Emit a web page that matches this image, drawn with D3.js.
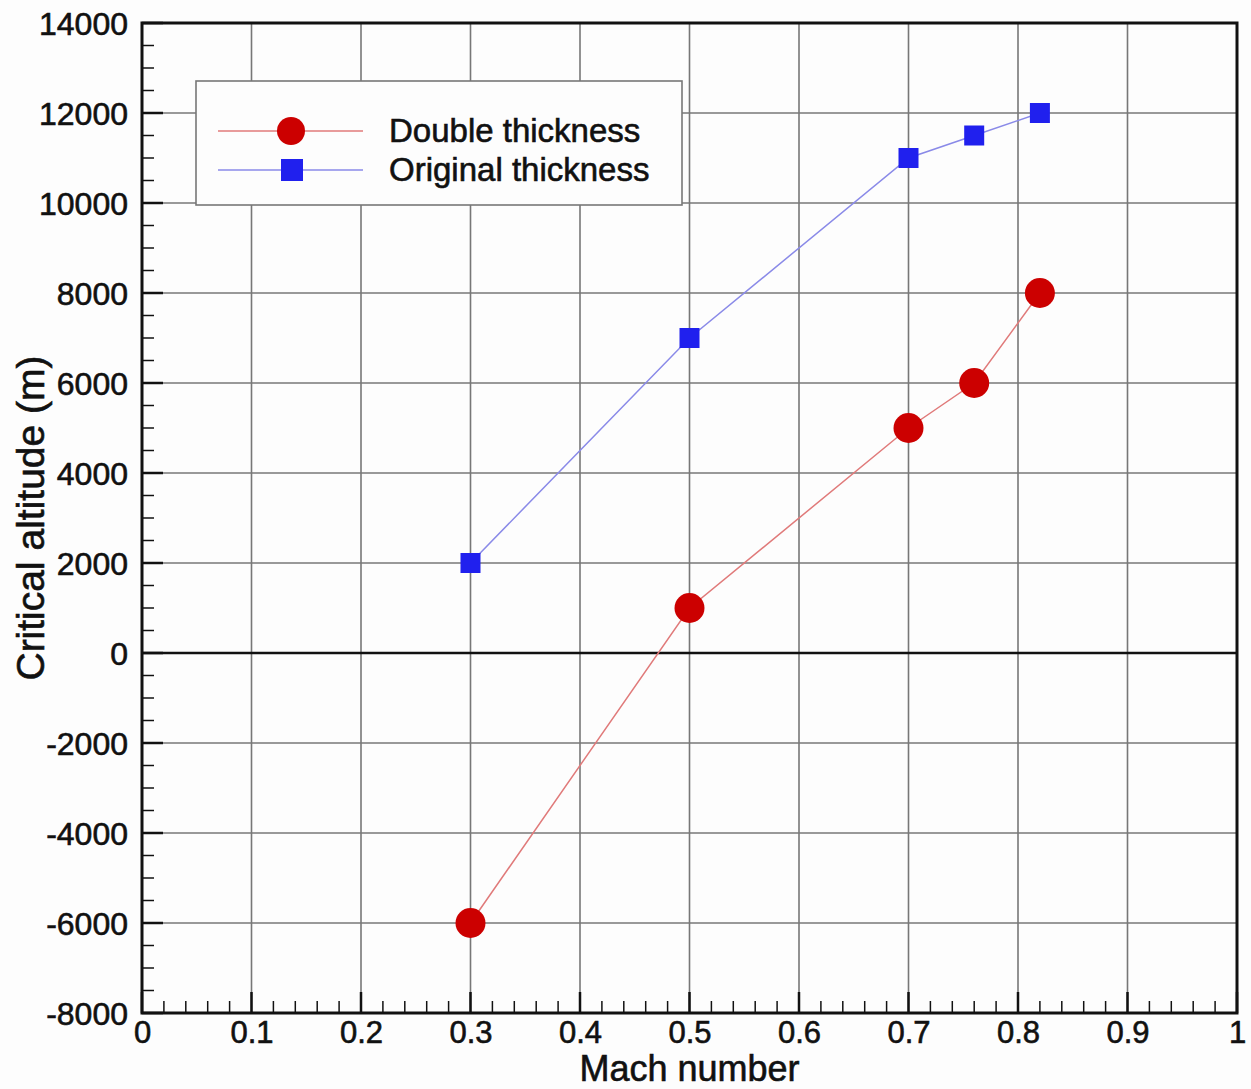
<!DOCTYPE html>
<html>
<head>
<meta charset="utf-8">
<script src="https://cdn.jsdelivr.net/npm/d3@7"></script>
<style>
  body { margin: 0; background: #fdfdfd; }
  text { font-family: "Liberation Sans", Arial, sans-serif; fill: #111; stroke: #111; stroke-width: 0.6px; }
</style>
</head>
<body>
<div id="chart"></div>
<script>
// data
var mach = [0.3, 0.5, 0.7, 0.76, 0.82];
var doubleThickness = [-6000, 1000, 5000, 6000, 8000];
var originalThickness = [2000, 7000, 11000, 11500, 12000];
var xTicks = [0, 0.1, 0.2, 0.3, 0.4, 0.5, 0.6, 0.7, 0.8, 0.9, 1];
var yTicks = [-8000, -6000, -4000, -2000, 0, 2000, 4000, 6000, 8000, 10000, 12000, 14000];
var seriesNames = ["Double thickness", "Original thickness"];

var svgWidth = 1251;
var svgHeight = 1089;
var margin = { top: 23, right: 14, bottom: 76, left: 142 };
var width = svgWidth - margin.left - margin.right;
var height = svgHeight - margin.top - margin.bottom;

var svg = d3.select("#chart").append("svg")
  .attr("width", svgWidth)
  .attr("height", svgHeight);

var g = svg.append("g")
  .attr("transform", `translate(${margin.left}, ${margin.top})`);

var x = d3.scaleLinear().domain([0, 1]).range([0, width]);
var y = d3.scaleLinear().domain([-8000, 14000]).range([height, 0]);

// grid
g.selectAll(".vgrid").data(xTicks.slice(1, -1)).enter().append("line")
  .attr("x1", d => x(d)).attr("x2", d => x(d))
  .attr("y1", 0).attr("y2", height)
  .attr("stroke", "#777").attr("stroke-width", 1.6);
g.selectAll(".hgrid").data(yTicks.slice(1, -1)).enter().append("line")
  .attr("x1", 0).attr("x2", width)
  .attr("y1", d => y(d)).attr("y2", d => y(d))
  .attr("stroke", d => d === 0 ? "#111" : "#777")
  .attr("stroke-width", d => d === 0 ? 2.5 : 1.6);

// minor + major ticks (inside)
var xMinor = d3.range(0, 1.0001, 0.02);
var yMinor = d3.range(-8000, 14001, 500);
g.selectAll(".xminor").data(xMinor).enter().append("line")
  .attr("x1", d => x(d)).attr("x2", d => x(d))
  .attr("y1", height).attr("y2", (d, i) => height - (i % 5 === 0 ? 21 : 12))
  .attr("stroke", "#111").attr("stroke-width", (d, i) => i % 5 === 0 ? 2.5 : 1.5);
g.selectAll(".yminor").data(yMinor).enter().append("line")
  .attr("y1", d => y(d)).attr("y2", d => y(d))
  .attr("x1", 0).attr("x2", (d, i) => i % 4 === 0 ? 21 : 12)
  .attr("stroke", "#111").attr("stroke-width", (d, i) => i % 4 === 0 ? 2.5 : 1.5);

// frame
g.append("rect")
  .attr("width", width).attr("height", height)
  .attr("fill", "none").attr("stroke", "#111").attr("stroke-width", 3);

// tick labels
var bottomAxis = d3.axisBottom(x).tickValues(xTicks).tickSize(0).tickPadding(8)
  .tickFormat(d => d === 0 || d === 1 ? String(d) : d3.format(".1f")(d));
var leftAxis = d3.axisLeft(y).tickValues(yTicks).tickSize(0).tickPadding(14)
  .tickFormat(d => String(d));

g.append("g").attr("transform", `translate(0, ${height})`).call(bottomAxis)
  .call(a => a.select(".domain").remove())
  .selectAll("text").attr("font-size", 31).attr("fill", "#111")
  .attr("font-family", "Liberation Sans, Arial, sans-serif");
g.append("g").call(leftAxis)
  .call(a => a.select(".domain").remove())
  .selectAll("text").attr("font-size", 32).attr("fill", "#111")
  .attr("dy", "0.35em")
  .attr("font-family", "Liberation Sans, Arial, sans-serif");

// axis titles
svg.append("text")
  .attr("x", margin.left + x(0.5)).attr("y", 1081)
  .attr("text-anchor", "middle").attr("font-size", 36)
  .text("Mach number");
svg.append("text")
  .attr("transform", `translate(44, ${margin.top + y(3000)}) rotate(-90)`)
  .attr("text-anchor", "middle").attr("font-size", 39)
  .text("Critical altitude (m)");

// series
var line = d3.line().x(d => x(d[0])).y(d => y(d[1]));
var redPts = mach.map((m, i) => [m, doubleThickness[i]]);
var bluePts = mach.map((m, i) => [m, originalThickness[i]]);

g.append("path").datum(redPts).attr("d", line)
  .attr("fill", "none").attr("stroke", "#e07a7a").attr("stroke-width", 1.5);
g.append("path").datum(bluePts).attr("d", line)
  .attr("fill", "none").attr("stroke", "#8a8ae8").attr("stroke-width", 1.5);

g.selectAll(".red").data(redPts).enter().append("circle")
  .attr("cx", d => x(d[0])).attr("cy", d => y(d[1]))
  .attr("r", 15).attr("fill", "#cc0000");
g.selectAll(".blue").data(bluePts).enter().append("rect")
  .attr("x", d => x(d[0]) - 10).attr("y", d => y(d[1]) - 10)
  .attr("width", 20).attr("height", 20).attr("fill", "#2020ee");

// legend
var lg = svg.append("g").attr("transform", "translate(196, 81)");
lg.append("rect").attr("width", 486).attr("height", 124)
  .attr("fill", "#fdfdfd").attr("stroke", "#777").attr("stroke-width", 1.6);
var legendColors = [["#e07a7a", "#cc0000"], ["#8a8ae8", "#2020ee"]];
seriesNames.forEach(function(name, i) {
  var ly = i === 0 ? 50 : 89;
  lg.append("line").attr("x1", 22).attr("x2", 167).attr("y1", ly).attr("y2", ly)
    .attr("stroke", legendColors[i][0]).attr("stroke-width", 1.5);
  if (i === 0) {
    lg.append("circle").attr("cx", 95).attr("cy", ly).attr("r", 14).attr("fill", legendColors[i][1]);
  } else {
    lg.append("rect").attr("x", 85).attr("y", ly - 11).attr("width", 22).attr("height", 22)
      .attr("fill", legendColors[i][1]);
  }
  lg.append("text").attr("x", 193).attr("y", ly + 11).attr("font-size", 33).text(name);
});
</script>
</body>
</html>
